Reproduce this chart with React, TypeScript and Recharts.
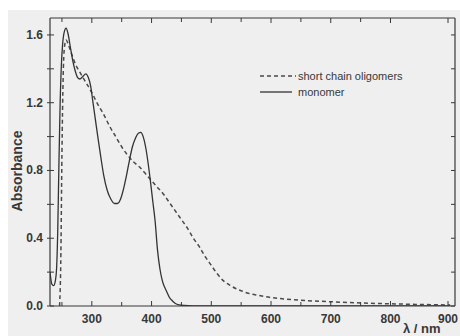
import { LineChart, Line, XAxis, YAxis } from "recharts"

// wavelength (nm) and absorbance
const monomerNm = [
  230, 233, 236, 239, 241, 243, 245, 247, 249, 251, 254, 257, 260, 264, 268, 272, 276, 280, 285,
  290, 294, 298, 302, 306, 310, 315, 320, 326, 332, 338, 343, 348, 353, 358, 363, 368, 373, 378,
  382, 386, 390, 394, 398, 402, 406, 410, 414, 418, 422, 426, 430, 435, 440, 446, 455, 470, 500,
  600, 700, 800, 900,
]
const monomerAbs = [
  0.2, 0.13, 0.12, 0.15, 0.22, 0.45, 0.85, 1.2, 1.42, 1.54, 1.62, 1.64, 1.61, 1.53, 1.45, 1.39,
  1.35, 1.34, 1.355, 1.37, 1.35, 1.3, 1.2, 1.1, 1.0, 0.88, 0.77, 0.68, 0.63, 0.605, 0.605, 0.63,
  0.69, 0.77, 0.86, 0.94, 0.99, 1.02, 1.025, 1.0, 0.94, 0.85, 0.74, 0.62, 0.5, 0.33, 0.22, 0.15,
  0.11, 0.08, 0.05, 0.03, 0.015, 0.007, 0.003, 0.001, 0, 0, 0, 0, 0,
]

const oligomerNm = [
  246, 248, 250, 252, 254, 257, 260, 265, 270, 275, 280, 290, 300, 310, 320, 330, 340, 350, 360,
  370, 380, 390, 400, 410, 420, 430, 440, 450, 460, 470, 480, 490, 500, 510, 520, 530, 540, 550,
  560, 580, 600, 620, 650, 700, 750, 800, 850, 900,
]
const oligomerAbs = [
  0, 0.25, 0.9, 1.35, 1.52, 1.57, 1.55, 1.5, 1.45, 1.41, 1.38, 1.32, 1.26, 1.19, 1.13, 1.06, 1.0,
  0.94, 0.89, 0.85, 0.82, 0.78, 0.74, 0.7, 0.66, 0.61, 0.56, 0.51, 0.46, 0.4, 0.35, 0.29, 0.24,
  0.19, 0.15, 0.125, 0.105, 0.09, 0.077, 0.062, 0.05, 0.042, 0.034, 0.025, 0.018, 0.013, 0.009,
  0.006,
]

const xTicks = [250, 300, 350, 400, 450, 500, 550, 600, 650, 700, 750, 800, 850, 900]
const xLabels = [300, 400, 500, 600, 700, 800, 900]
const yTicks = [0, 0.2, 0.4, 0.6, 0.8, 1.0, 1.2, 1.4, 1.6]
const yLabels = [0, 0.4, 0.8, 1.2, 1.6]

const monomer = monomerNm.map((x, i) => ({ x, y: monomerAbs[i] }))
const oligomers = oligomerNm.map((x, i) => ({ x, y: oligomerAbs[i] }))

const ink = "#383838"
const font = "'Liberation Sans', Arial, sans-serif"

function BottomTick({ x, y, payload }: any) {
  const v = payload.value
  const major = xLabels.includes(v)
  return (
    <g>
      <line x1={x} x2={x} y1={y} y2={y - (major ? 5 : 4)} stroke={ink} strokeWidth={1} />
      {major && (
        <text x={x} y={y + 17} textAnchor="middle" fontSize={12} fontWeight="bold" fill={ink} fontFamily={font}>
          {v}
        </text>
      )}
    </g>
  )
}

function TopTick({ x, y, payload }: any) {
  return <line x1={x} x2={x} y1={y} y2={y + (xLabels.includes(payload.value) ? 5 : 4)} stroke={ink} />
}

function LeftTick({ x, y, payload }: any) {
  const v = payload.value
  const major = yLabels.some((l) => Math.abs(l - v) < 1e-6)
  return (
    <g>
      <line x1={x - 3} x2={x + 4} y1={y} y2={y} stroke={ink} />
      {major && (
        <text x={x - 7} y={y + 4} textAnchor="end" fontSize={12} fontWeight="bold" fill={ink} fontFamily={font}>
          {v.toFixed(1)}
        </text>
      )}
    </g>
  )
}

function RightTick({ x, y }: any) {
  return <line x1={x} x2={x - 4} y1={y} y2={y} stroke={ink} />
}

export default function App() {
  return (
    <div style={{ position: "absolute", left: 0, top: 0, width: 460, height: 336, background: "#fff", overflow: "hidden" }}>
      <div style={{ position: "absolute", left: 8, top: 10, width: 452, height: 326, background: "#efefef" }} />
      <div style={{ position: "absolute", left: 0, top: 0 }}>
        <LineChart width={460} height={336} margin={{ top: 0, right: 0, left: 0, bottom: 0 }}>
          <XAxis
            xAxisId="bottom"
            dataKey="x"
            type="number"
            domain={[230, 908]}
            ticks={xTicks}
            allowDataOverflow
            height={30}
            tickSize={0}
            tickMargin={0}
            tickLine={false}
            tick={<BottomTick />}
            axisLine={{ stroke: ink, strokeWidth: 1.2 }}
          />
          <XAxis
            xAxisId="top"
            orientation="top"
            dataKey="x"
            type="number"
            domain={[230, 908]}
            ticks={xTicks}
            allowDataOverflow
            height={18}
            tickSize={0}
            tickMargin={0}
            tickLine={false}
            tick={<TopTick />}
            axisLine={{ stroke: ink, strokeWidth: 1.2 }}
          />
          <YAxis
            yAxisId="left"
            type="number"
            domain={[0, 1.7]}
            ticks={yTicks}
            allowDataOverflow
            width={50}
            tickSize={0}
            tickMargin={0}
            tickLine={false}
            tick={<LeftTick />}
            axisLine={{ stroke: ink, strokeWidth: 1.2 }}
          />
          <YAxis
            yAxisId="right"
            orientation="right"
            type="number"
            domain={[0, 1.7]}
            ticks={yTicks}
            allowDataOverflow
            width={5}
            tickSize={0}
            tickMargin={0}
            tickLine={false}
            tick={<RightTick />}
            axisLine={{ stroke: ink, strokeWidth: 1.2 }}
          />
          <Line
            xAxisId="bottom"
            yAxisId="left"
            data={oligomers}
            dataKey="y"
            type="monotone"
            stroke="#4a4a4a"
            strokeWidth={1.5}
            strokeDasharray="4 3"
            dot={false}
            isAnimationActive={false}
          />
          <Line
            xAxisId="bottom"
            yAxisId="left"
            data={monomer}
            dataKey="y"
            type="monotone"
            stroke="#333"
            strokeWidth={1.3}
            dot={false}
            isAnimationActive={false}
          />
        </LineChart>
      </div>
      <div
        style={{
          position: "absolute",
          left: 6,
          top: 171,
          transform: "translate(-50%, -50%) rotate(-90deg)",
          transformOrigin: "center",
          marginLeft: 11,
          fontFamily: font,
          fontWeight: "bold",
          fontSize: 14,
          color: ink,
          whiteSpace: "nowrap",
        }}
      >
        Absorbance
      </div>
      <div
        style={{
          position: "absolute",
          left: 403,
          top: 322,
          fontFamily: font,
          fontWeight: "bold",
          fontSize: 13,
          lineHeight: "13px",
          color: ink,
          whiteSpace: "nowrap",
        }}
      >
        λ / nm
      </div>
      <div style={{ position: "absolute", left: 258, top: 68, fontFamily: font, fontSize: 11, color: ink, lineHeight: "16px" }}>
        <div style={{ display: "flex", alignItems: "center" }}>
          <svg width={38} height={4}>
            <line x1={2} x2={38} y1={2} y2={2} stroke="#4a4a4a" strokeWidth={1.4} strokeDasharray="4 3" />
          </svg>
          <span style={{ marginLeft: 2 }}>short chain oligomers</span>
        </div>
        <div style={{ display: "flex", alignItems: "center" }}>
          <svg width={38} height={4}>
            <line x1={2} x2={34} y1={2} y2={2} stroke="#333" strokeWidth={1.3} />
          </svg>
          <span style={{ marginLeft: 2 }}>monomer</span>
        </div>
      </div>
    </div>
  )
}
